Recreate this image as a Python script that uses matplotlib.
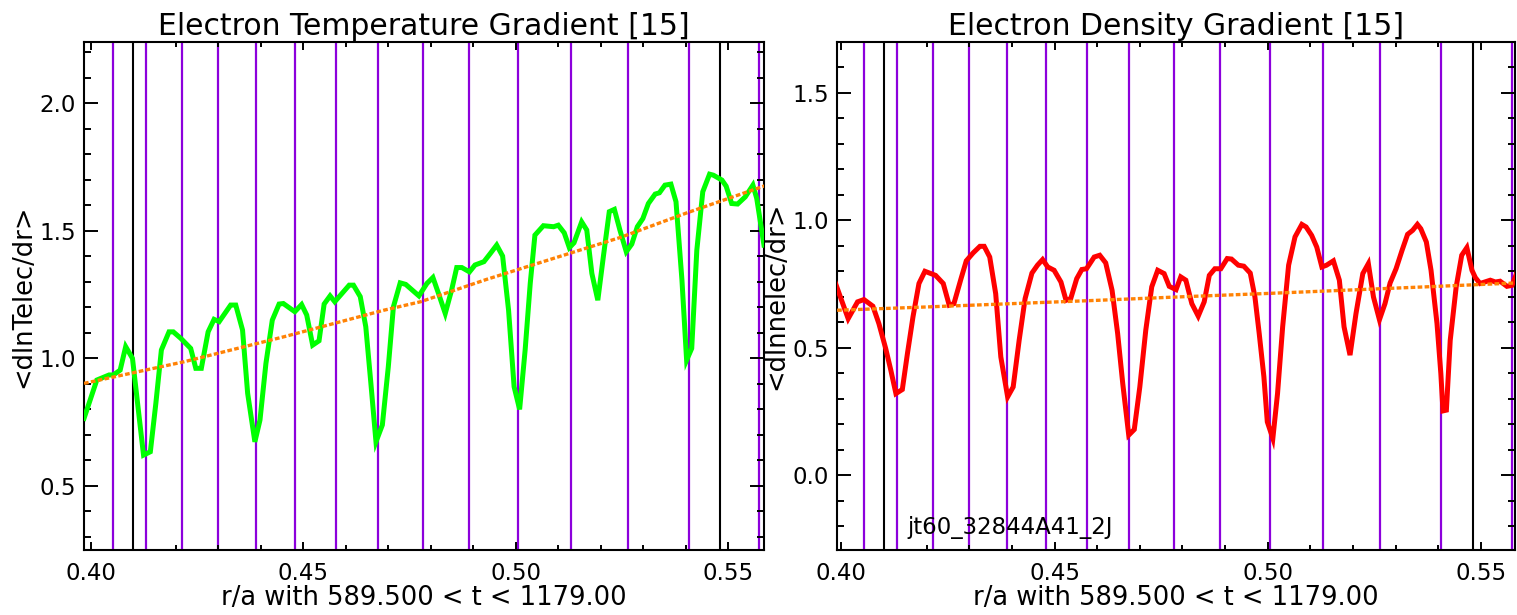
import matplotlib
matplotlib.use("Agg")
import matplotlib.pyplot as plt
from matplotlib.ticker import MultipleLocator, FormatStrFormatter

plt.rcParams["font.family"] = ["DejaVu Sans"]

# electron temperature gradient profile, <dlnTelec/dr>
te_r = [0.3984, 0.4014, 0.4043, 0.4053, 0.4069, 0.4082, 0.4098, 0.4110, 0.4124, 0.4140,
        0.4153, 0.4166, 0.4184, 0.4194, 0.4212, 0.4235, 0.4247, 0.4260, 0.4276, 0.4290,
        0.4302, 0.4329, 0.4341, 0.4357, 0.4369, 0.4386, 0.4398, 0.4412, 0.4427, 0.4443,
        0.4453, 0.4480, 0.4496, 0.4508, 0.4522, 0.4537, 0.4549, 0.4563, 0.4574, 0.4608,
        0.4618, 0.4634, 0.4647, 0.4659, 0.4671, 0.4686, 0.4700, 0.4712, 0.4728, 0.4741,
        0.4772, 0.4791, 0.4805, 0.4818, 0.4834, 0.4849, 0.4861, 0.4873, 0.4891, 0.4904,
        0.4925, 0.4940, 0.4955, 0.4969, 0.4983, 0.4996, 0.5009, 0.5022, 0.5034, 0.5045,
        0.5065, 0.5089, 0.5100, 0.5114, 0.5126, 0.5137, 0.5155, 0.5167, 0.5179, 0.5193,
        0.5206, 0.5220, 0.5232, 0.5245, 0.5260, 0.5273, 0.5286, 0.5299, 0.5312, 0.5328,
        0.5338, 0.5351, 0.5365, 0.5377, 0.5391, 0.5402, 0.5414, 0.5426, 0.5440, 0.5456,
        0.5465, 0.5485, 0.5495, 0.5508, 0.5522, 0.5540, 0.5558, 0.5567, 0.5584]
te_grad = [0.765, 0.915, 0.935, 0.935, 0.954, 1.046, 1.000, 0.824, 0.621, 0.634,
           0.824, 1.033, 1.104, 1.104, 1.078, 1.039, 0.961, 0.961, 1.104, 1.153,
           1.144, 1.209, 1.209, 1.111, 0.863, 0.673, 0.758, 0.980, 1.150, 1.213,
           1.215, 1.183, 1.211, 1.170, 1.052, 1.069, 1.213, 1.245, 1.222, 1.287,
           1.287, 1.242, 1.124, 0.902, 0.673, 0.739, 0.967, 1.202, 1.296, 1.290,
           1.245, 1.294, 1.317, 1.255, 1.176, 1.268, 1.356, 1.356, 1.339, 1.366,
           1.379, 1.411, 1.444, 1.401, 1.189, 0.889, 0.800, 1.033, 1.294, 1.483,
           1.520, 1.516, 1.522, 1.492, 1.434, 1.453, 1.535, 1.503, 1.333, 1.228,
           1.398, 1.575, 1.584, 1.503, 1.418, 1.448, 1.516, 1.548, 1.607, 1.644,
           1.649, 1.679, 1.683, 1.614, 1.307, 0.993, 1.039, 1.424, 1.653, 1.722,
           1.718, 1.699, 1.675, 1.607, 1.605, 1.633, 1.679, 1.627, 1.444]
te_fit_r = [0.3984, 0.4220, 0.4455, 0.4690, 0.4776, 0.4932, 0.5089, 0.5246, 0.5402, 0.5587]
te_fit = [0.902, 0.987, 1.085, 1.189, 1.222, 1.310, 1.392, 1.474, 1.570, 1.677]

# electron density gradient profile, <dlnnelec/dr>
ne_r = [0.3986, 0.4016, 0.4038, 0.4053, 0.4074, 0.4088, 0.4104, 0.4116, 0.4128, 0.4143,
        0.4155, 0.4168, 0.4182, 0.4196, 0.4221, 0.4239, 0.4253, 0.4264, 0.4280, 0.4293,
        0.4309, 0.4325, 0.4335, 0.4348, 0.4362, 0.4374, 0.4390, 0.4403, 0.4417, 0.4431,
        0.4447, 0.4460, 0.4472, 0.4484, 0.4499, 0.4515, 0.4527, 0.4538, 0.4552, 0.4564,
        0.4575, 0.4593, 0.4606, 0.4620, 0.4635, 0.4648, 0.4660, 0.4674, 0.4687, 0.4700,
        0.4714, 0.4728, 0.4742, 0.4757, 0.4769, 0.4785, 0.4796, 0.4808, 0.4822, 0.4837,
        0.4851, 0.4863, 0.4876, 0.4890, 0.4905, 0.4915, 0.4931, 0.4944, 0.4959, 0.4970,
        0.4980, 0.4991, 0.4999, 0.5012, 0.5023, 0.5035, 0.5049, 0.5064, 0.5080, 0.5090,
        0.5103, 0.5115, 0.5127, 0.5138, 0.5154, 0.5168, 0.5179, 0.5193, 0.5207, 0.5223,
        0.5236, 0.5248, 0.5262, 0.5275, 0.5287, 0.5301, 0.5315, 0.5328, 0.5340, 0.5351,
        0.5359, 0.5372, 0.5383, 0.5397, 0.5406, 0.5411, 0.5419, 0.5428, 0.5442, 0.5455,
        0.5467, 0.5479, 0.5487, 0.5498, 0.5522, 0.5534, 0.5545, 0.5561, 0.5573, 0.5585]
ne_grad = [0.754, 0.614, 0.680, 0.689, 0.663, 0.595, 0.497, 0.412, 0.320, 0.336,
           0.477, 0.621, 0.752, 0.800, 0.784, 0.752, 0.667, 0.673, 0.767, 0.841,
           0.872, 0.898, 0.898, 0.856, 0.712, 0.464, 0.307, 0.346, 0.529, 0.693,
           0.793, 0.824, 0.846, 0.817, 0.804, 0.758, 0.686, 0.693, 0.771, 0.807,
           0.810, 0.856, 0.863, 0.833, 0.725, 0.556, 0.359, 0.157, 0.179, 0.346,
           0.569, 0.739, 0.804, 0.791, 0.741, 0.728, 0.778, 0.765, 0.673, 0.624,
           0.680, 0.784, 0.810, 0.810, 0.850, 0.848, 0.824, 0.820, 0.793, 0.699,
           0.556, 0.386, 0.209, 0.144, 0.320, 0.582, 0.824, 0.935, 0.984, 0.974,
           0.941, 0.895, 0.817, 0.824, 0.841, 0.765, 0.582, 0.471, 0.634, 0.791,
           0.830, 0.699, 0.610, 0.673, 0.754, 0.810, 0.882, 0.945, 0.961, 0.984,
           0.967, 0.915, 0.804, 0.595, 0.399, 0.252, 0.255, 0.529, 0.739, 0.863,
           0.893, 0.804, 0.775, 0.752, 0.765, 0.758, 0.761, 0.741, 0.745, 0.797]
ne_fit_r = [0.3990, 0.4200, 0.4400, 0.4600, 0.4800, 0.5000, 0.5200, 0.5400, 0.5580]
ne_fit = [0.647, 0.660, 0.673, 0.686, 0.700, 0.713, 0.727, 0.741, 0.754]

# rational surface locations and the analysis window bounds
q_surf = [0.4052, 0.4130, 0.4215, 0.4300, 0.4389, 0.4481, 0.4577, 0.4675,
          0.4781, 0.4889, 0.5006, 0.5129, 0.5263, 0.5407, 0.5573]
window = [0.4099, 0.5481]

PURPLE = "#8c00dc"
ORANGE = "#ff8205"

fig = plt.figure(figsize=(15.17, 6.15), dpi=100)
ax1 = fig.add_axes([0.0554, 0.1057, 0.4482, 0.8260])
ax2 = fig.add_axes([0.5518, 0.1057, 0.4469, 0.8260])


def panel(ax, r, prof, fit_r, fit, color, xlim, ylim, title, ylabel):
    for x in q_surf:
        ax.axvline(x, color=PURPLE, linewidth=1.6, zorder=1)
    for x in window:
        ax.axvline(x, color="black", linewidth=1.5, zorder=1)
    ax.plot(r, prof, color=color, linewidth=3.6, solid_joinstyle="miter", zorder=3)
    ax.plot(fit_r, fit, color=ORANGE, linewidth=2.4, dashes=(1.4, 0.7),
            dash_capstyle="butt", zorder=4)
    ax.set_xlim(*xlim)
    ax.set_ylim(*ylim)
    ax.xaxis.set_major_locator(MultipleLocator(0.05))
    ax.xaxis.set_minor_locator(MultipleLocator(0.01))
    ax.yaxis.set_major_locator(MultipleLocator(0.5))
    ax.yaxis.set_minor_locator(MultipleLocator(0.1))
    ax.xaxis.set_major_formatter(FormatStrFormatter("%.2f"))
    ax.yaxis.set_major_formatter(FormatStrFormatter("%.1f"))
    ax.tick_params(which="both", direction="in", top=True, right=True,
                   width=1.4, color="black", labelsize=16.5)
    ax.tick_params(axis="x", which="major", length=6, pad=9)
    ax.tick_params(axis="x", which="minor", length=3.5)
    ax.tick_params(axis="y", which="major", length=10, pad=6)
    ax.tick_params(axis="y", which="minor", length=5)
    for s in ax.spines.values():
        s.set_linewidth(1.5)
    ax.set_title(title, fontsize=21.5, pad=5)
    ax.set_xlabel("r/a with 589.500 < t < 1179.00", fontsize=18.5)
    ax.xaxis.set_label_coords(0.5, -0.069)
    ax.set_ylabel(ylabel, fontsize=18.5)
    ax.yaxis.set_label_coords(-0.071, 0.5)


panel(ax1, te_r, te_grad, te_fit_r, te_fit, "#00ff00", (0.3984, 0.5584), (0.249, 2.24),
      "Electron Temperature Gradient [15]", "<dlnTelec/dr>")
panel(ax2, ne_r, ne_grad, ne_fit_r, ne_fit, "#ff0000", (0.3990, 0.5580), (-0.294, 1.70),
      "Electron Density Gradient [15]", "<dlnnelec/dr>")

ax2.text(0.4156, -0.204, "jt60_32844A41_2J", fontsize=16.5, va="center", ha="left")

fig.savefig("out.png", dpi=100)
